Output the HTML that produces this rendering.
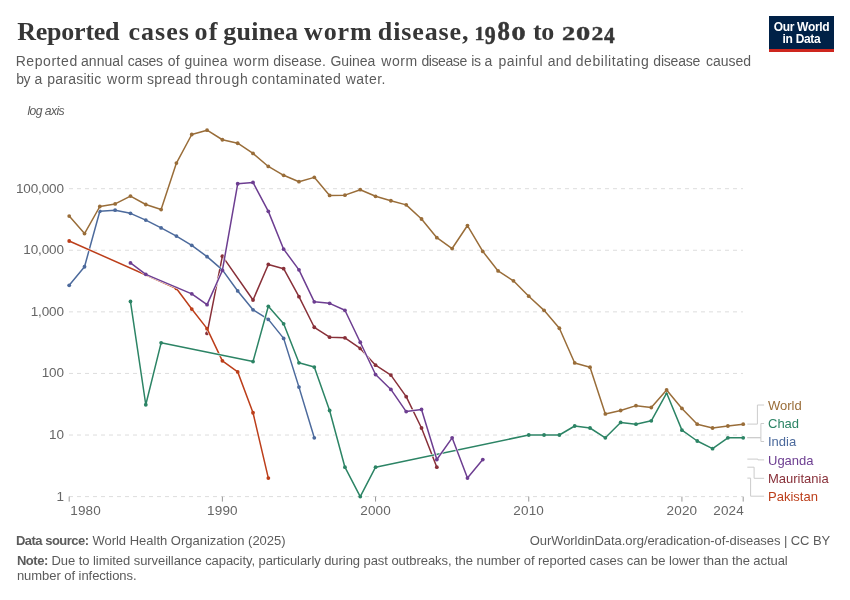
<!DOCTYPE html>
<html><head><meta charset="utf-8"><title>Reported cases of guinea worm disease</title>
<style>
html,body{margin:0;padding:0;background:#fff;}
body{will-change:transform;width:850px;height:600px;position:relative;overflow:hidden;font-family:"Liberation Sans",sans-serif;}
.abs{position:absolute;white-space:nowrap;}
#title span{position:absolute;top:17px;white-space:nowrap;font-family:"Liberation Serif",serif;font-weight:bold;font-size:26px;line-height:30px;color:#363636}
#sub span{position:absolute;white-space:nowrap;font-size:14px;line-height:18px;color:#5b5b5b}
#logo{letter-spacing:-0.32px;left:769px;top:16px;width:65px;height:33px;background:#002147;border-bottom:3px solid #ce261e;color:#fff;font-weight:bold;font-size:12px;line-height:12px;text-align:center;}
#logo div{margin-top:5px}
#logax{left:27.5px;top:104px;letter-spacing:-0.6px;font-size:12.2px;font-style:italic;color:#5b5b5b;}
.yl{letter-spacing:-0.12px;position:absolute;left:0;width:63.9px;text-align:right;font-size:13.5px;line-height:16px;color:#666;}
.xl{letter-spacing:0.18px;position:absolute;top:503px;font-size:13.5px;line-height:16px;color:#666;white-space:nowrap}
.lg{position:absolute;left:768px;font-size:13px;line-height:16px;white-space:nowrap}
.ft{position:absolute;white-space:nowrap;font-size:13px;line-height:15px;color:#5b5b5b;}
.ft b{font-weight:bold}
svg{position:absolute;left:0;top:0}
</style></head><body>
<div id="title"><span style="left:17.30px;letter-spacing:-0.245px">Reported</span> <span style="left:128.50px;letter-spacing:1.000px">cases</span> <span style="left:194.45px;letter-spacing:1.200px">of</span> <span style="left:223.30px;letter-spacing:0.223px">guinea</span> <span style="left:304.00px;letter-spacing:0.895px">worm</span> <span style="left:377.80px;letter-spacing:0.886px">disease,</span> <svg width="850" height="60" viewBox="0 0 850 60" style="overflow:visible"><g font-family="Liberation Serif, serif" font-weight="bold" font-size="20" fill="#363636" stroke="#363636" stroke-width="0.4" stroke-linejoin="round"><text transform="translate(474.40,39.90) scale(1.000,0.893)">1</text><text transform="translate(484.80,44.00) scale(1.090,1.207)">9</text><text transform="translate(497.40,40.20) scale(1.240,1.314)">8</text><text transform="translate(511.50,40.20) scale(1.410,0.929)">0</text></g></svg> <span style="left:533.00px;letter-spacing:-0.450px">to</span> <svg width="850" height="60" viewBox="0 0 850 60" style="overflow:visible"><g font-family="Liberation Serif, serif" font-weight="bold" font-size="20" fill="#363636" stroke="#363636" stroke-width="0.4" stroke-linejoin="round"><text transform="translate(561.90,39.90) scale(1.320,0.893)">2</text><text transform="translate(576.00,40.20) scale(1.420,0.929)">0</text><text transform="translate(591.50,39.90) scale(1.180,0.893)">2</text><text transform="translate(603.90,43.10) scale(1.070,1.150)">4</text></g></svg></div>
<div id="sub"><span style="left:15.70px;top:52px;letter-spacing:0.556px">Reported</span> <span style="left:81.00px;top:52px;letter-spacing:0.054px">annual</span> <span style="left:127.80px;top:52px;letter-spacing:-0.343px">cases</span> <span style="left:167.80px;top:52px;letter-spacing:0.214px">of</span> <span style="left:184.40px;top:52px;letter-spacing:0.229px">guinea</span> <span style="left:233.40px;top:52px;letter-spacing:0.480px">worm</span> <span style="left:273.20px;top:52px;letter-spacing:0.064px">disease.</span> <span style="left:330.40px;top:52px;letter-spacing:-0.032px">Guinea</span> <span style="left:381.20px;top:52px;letter-spacing:0.614px">worm</span> <span style="left:421.50px;top:52px;letter-spacing:-0.428px">disease</span> <span style="left:471.27px;top:52px;letter-spacing:-0.450px">is</span> <span style="left:484.40px;top:52px;letter-spacing:-0.450px">a</span> <span style="left:498.60px;top:52px;letter-spacing:0.443px">painful</span> <span style="left:547.80px;top:52px;letter-spacing:0.164px">and</span> <span style="left:575.80px;top:52px;letter-spacing:0.541px">debilitating</span> <span style="left:653.30px;top:52px;letter-spacing:-0.195px">disease</span> <span style="left:706.00px;top:52px;letter-spacing:-0.032px">caused</span> <span style="left:16.13px;top:70px;letter-spacing:-0.450px">by</span> <span style="left:34.45px;top:70px;letter-spacing:-0.450px">a</span> <span style="left:47.30px;top:70px;letter-spacing:0.221px">parasitic</span> <span style="left:107.10px;top:70px;letter-spacing:0.514px">worm</span> <span style="left:147.00px;top:70px;letter-spacing:0.296px">spread</span> <span style="left:195.40px;top:70px;letter-spacing:0.834px">through</span> <span style="left:251.70px;top:70px;letter-spacing:0.466px">contaminated</span> <span style="left:345.70px;top:70px;letter-spacing:0.488px">water.</span></div>
<div id="logo" class="abs"><div>Our World<br>in Data</div></div>
<div id="logax" class="abs">log axis</div>
<svg width="850" height="600" viewBox="0 0 850 600">
<line x1="69" x2="743" y1="496.60" y2="496.60" stroke="#dddddd" stroke-width="1" stroke-dasharray="4,4"/>
<line x1="69" x2="743" y1="435.02" y2="435.02" stroke="#dddddd" stroke-width="1" stroke-dasharray="4,4"/>
<line x1="69" x2="743" y1="373.44" y2="373.44" stroke="#dddddd" stroke-width="1" stroke-dasharray="4,4"/>
<line x1="69" x2="743" y1="311.86" y2="311.86" stroke="#dddddd" stroke-width="1" stroke-dasharray="4,4"/>
<line x1="69" x2="743" y1="250.28" y2="250.28" stroke="#dddddd" stroke-width="1" stroke-dasharray="4,4"/>
<line x1="69" x2="743" y1="188.70" y2="188.70" stroke="#dddddd" stroke-width="1" stroke-dasharray="4,4"/>
<line x1="69.20" x2="69.20" y1="496.60" y2="501.60" stroke="#999" stroke-width="1"/>
<line x1="222.38" x2="222.38" y1="496.60" y2="501.60" stroke="#999" stroke-width="1"/>
<line x1="375.56" x2="375.56" y1="496.60" y2="501.60" stroke="#999" stroke-width="1"/>
<line x1="528.75" x2="528.75" y1="496.60" y2="501.60" stroke="#999" stroke-width="1"/>
<line x1="681.93" x2="681.93" y1="496.60" y2="501.60" stroke="#999" stroke-width="1"/>
<line x1="743.20" x2="743.20" y1="496.60" y2="501.60" stroke="#999" stroke-width="1"/>
<path d="M207.06,333.39 L222.38,256.13 L253.02,300.02 L268.34,264.47 L283.65,268.66 L298.97,296.71 L314.29,327.27 L329.61,337.18 L344.93,337.81 L360.25,348.41 L375.56,365.22 L390.88,375.09 L406.20,396.64 L421.52,428.00 L436.84,467.22" fill="none" stroke="#fff" stroke-width="2.5" stroke-linejoin="round" stroke-linecap="butt"/>
<path d="M207.06,333.39 L222.38,256.13 L253.02,300.02 L268.34,264.47 L283.65,268.66 L298.97,296.71 L314.29,327.27 L329.61,337.18 L344.93,337.81 L360.25,348.41 L375.56,365.22 L390.88,375.09 L406.20,396.64 L421.52,428.00 L436.84,467.22" fill="none" stroke="#883039" stroke-width="1.5" stroke-linejoin="round" stroke-linecap="butt"/>
<g fill="#883039"><circle cx="207.06" cy="333.39" r="1.9"/><circle cx="222.38" cy="256.13" r="1.9"/><circle cx="253.02" cy="300.02" r="1.9"/><circle cx="268.34" cy="264.47" r="1.9"/><circle cx="283.65" cy="268.66" r="1.9"/><circle cx="298.97" cy="296.71" r="1.9"/><circle cx="314.29" cy="327.27" r="1.9"/><circle cx="329.61" cy="337.18" r="1.9"/><circle cx="344.93" cy="337.81" r="1.9"/><circle cx="360.25" cy="348.41" r="1.9"/><circle cx="375.56" cy="365.22" r="1.9"/><circle cx="390.88" cy="375.09" r="1.9"/><circle cx="406.20" cy="396.64" r="1.9"/><circle cx="421.52" cy="428.00" r="1.9"/><circle cx="436.84" cy="467.22" r="1.9"/></g>
<path d="M69.20,285.30 L84.52,266.73 L99.84,211.32 L115.15,210.16 L130.47,213.34 L145.79,220.07 L161.11,227.92 L176.43,236.04 L191.75,245.35 L207.06,256.65 L222.38,269.92 L237.70,290.96 L253.02,309.78 L268.34,319.38 L283.65,338.38 L298.97,387.10 L314.29,437.84" fill="none" stroke="#fff" stroke-width="2.5" stroke-linejoin="round" stroke-linecap="butt"/>
<path d="M69.20,285.30 L84.52,266.73 L99.84,211.32 L115.15,210.16 L130.47,213.34 L145.79,220.07 L161.11,227.92 L176.43,236.04 L191.75,245.35 L207.06,256.65 L222.38,269.92 L237.70,290.96 L253.02,309.78 L268.34,319.38 L283.65,338.38 L298.97,387.10 L314.29,437.84" fill="none" stroke="#4C6A9C" stroke-width="1.5" stroke-linejoin="round" stroke-linecap="butt"/>
<g fill="#4C6A9C"><circle cx="69.20" cy="285.30" r="1.9"/><circle cx="84.52" cy="266.73" r="1.9"/><circle cx="99.84" cy="211.32" r="1.9"/><circle cx="115.15" cy="210.16" r="1.9"/><circle cx="130.47" cy="213.34" r="1.9"/><circle cx="145.79" cy="220.07" r="1.9"/><circle cx="161.11" cy="227.92" r="1.9"/><circle cx="176.43" cy="236.04" r="1.9"/><circle cx="191.75" cy="245.35" r="1.9"/><circle cx="207.06" cy="256.65" r="1.9"/><circle cx="222.38" cy="269.92" r="1.9"/><circle cx="237.70" cy="290.96" r="1.9"/><circle cx="253.02" cy="309.78" r="1.9"/><circle cx="268.34" cy="319.38" r="1.9"/><circle cx="283.65" cy="338.38" r="1.9"/><circle cx="298.97" cy="387.10" r="1.9"/><circle cx="314.29" cy="437.84" r="1.9"/></g>
<path d="M69.20,240.99 L176.43,288.45 L191.75,309.07 L207.06,328.64 L222.38,360.87 L237.70,371.88 L253.02,412.74 L268.34,478.06" fill="none" stroke="#fff" stroke-width="2.5" stroke-linejoin="round" stroke-linecap="butt"/>
<path d="M69.20,240.99 L176.43,288.45 L191.75,309.07 L207.06,328.64 L222.38,360.87 L237.70,371.88 L253.02,412.74 L268.34,478.06" fill="none" stroke="#BC3E1A" stroke-width="1.5" stroke-linejoin="round" stroke-linecap="butt"/>
<g fill="#BC3E1A"><circle cx="69.20" cy="240.99" r="1.9"/><circle cx="176.43" cy="288.45" r="1.9"/><circle cx="191.75" cy="309.07" r="1.9"/><circle cx="207.06" cy="328.64" r="1.9"/><circle cx="222.38" cy="360.87" r="1.9"/><circle cx="237.70" cy="371.88" r="1.9"/><circle cx="253.02" cy="412.74" r="1.9"/><circle cx="268.34" cy="478.06" r="1.9"/></g>
<path d="M130.47,301.52 L145.79,404.76 L161.11,342.84 L253.02,361.55 L268.34,306.30 L283.65,323.80 L298.97,362.78 L314.29,367.05 L329.61,410.51 L344.93,467.22 L360.25,496.60 L375.56,467.22 L528.75,435.02 L544.06,435.02 L559.38,435.02 L574.70,426.02 L590.02,428.00 L605.34,437.84 L620.65,422.45 L635.97,424.18 L651.29,420.83 L666.61,393.07 L681.93,430.14 L697.25,440.99 L712.56,448.68 L727.88,437.84 L743.20,437.84" fill="none" stroke="#fff" stroke-width="2.5" stroke-linejoin="round" stroke-linecap="butt"/>
<path d="M130.47,301.52 L145.79,404.76 L161.11,342.84 L253.02,361.55 L268.34,306.30 L283.65,323.80 L298.97,362.78 L314.29,367.05 L329.61,410.51 L344.93,467.22 L360.25,496.60 L375.56,467.22 L528.75,435.02 L544.06,435.02 L559.38,435.02 L574.70,426.02 L590.02,428.00 L605.34,437.84 L620.65,422.45 L635.97,424.18 L651.29,420.83 L666.61,393.07 L681.93,430.14 L697.25,440.99 L712.56,448.68 L727.88,437.84 L743.20,437.84" fill="none" stroke="#2C8465" stroke-width="1.5" stroke-linejoin="round" stroke-linecap="butt"/>
<g fill="#2C8465"><circle cx="130.47" cy="301.52" r="1.9"/><circle cx="145.79" cy="404.76" r="1.9"/><circle cx="161.11" cy="342.84" r="1.9"/><circle cx="253.02" cy="361.55" r="1.9"/><circle cx="268.34" cy="306.30" r="1.9"/><circle cx="283.65" cy="323.80" r="1.9"/><circle cx="298.97" cy="362.78" r="1.9"/><circle cx="314.29" cy="367.05" r="1.9"/><circle cx="329.61" cy="410.51" r="1.9"/><circle cx="344.93" cy="467.22" r="1.9"/><circle cx="360.25" cy="496.60" r="1.9"/><circle cx="375.56" cy="467.22" r="1.9"/><circle cx="528.75" cy="435.02" r="1.9"/><circle cx="544.06" cy="435.02" r="1.9"/><circle cx="559.38" cy="435.02" r="1.9"/><circle cx="574.70" cy="426.02" r="1.9"/><circle cx="590.02" cy="428.00" r="1.9"/><circle cx="605.34" cy="437.84" r="1.9"/><circle cx="620.65" cy="422.45" r="1.9"/><circle cx="635.97" cy="424.18" r="1.9"/><circle cx="651.29" cy="420.83" r="1.9"/><circle cx="666.61" cy="393.07" r="1.9"/><circle cx="681.93" cy="430.14" r="1.9"/><circle cx="697.25" cy="440.99" r="1.9"/><circle cx="712.56" cy="448.68" r="1.9"/><circle cx="727.88" cy="437.84" r="1.9"/><circle cx="743.20" cy="437.84" r="1.9"/></g>
<path d="M130.47,262.94 L145.79,274.32 L191.75,293.86 L207.06,304.66 L222.38,270.45 L237.70,183.77 L253.02,182.44 L268.34,211.36 L283.65,249.17 L298.97,269.85 L314.29,301.83 L329.61,303.36 L344.93,310.28 L360.25,342.25 L375.56,374.53 L390.88,389.43 L406.20,411.61 L421.52,409.47 L436.84,459.53 L452.15,437.84 L467.47,478.06 L482.79,459.53" fill="none" stroke="#fff" stroke-width="2.5" stroke-linejoin="round" stroke-linecap="butt"/>
<path d="M130.47,262.94 L145.79,274.32 L191.75,293.86 L207.06,304.66 L222.38,270.45 L237.70,183.77 L253.02,182.44 L268.34,211.36 L283.65,249.17 L298.97,269.85 L314.29,301.83 L329.61,303.36 L344.93,310.28 L360.25,342.25 L375.56,374.53 L390.88,389.43 L406.20,411.61 L421.52,409.47 L436.84,459.53 L452.15,437.84 L467.47,478.06 L482.79,459.53" fill="none" stroke="#6D3E91" stroke-width="1.5" stroke-linejoin="round" stroke-linecap="butt"/>
<g fill="#6D3E91"><circle cx="130.47" cy="262.94" r="1.9"/><circle cx="145.79" cy="274.32" r="1.9"/><circle cx="191.75" cy="293.86" r="1.9"/><circle cx="207.06" cy="304.66" r="1.9"/><circle cx="222.38" cy="270.45" r="1.9"/><circle cx="237.70" cy="183.77" r="1.9"/><circle cx="253.02" cy="182.44" r="1.9"/><circle cx="268.34" cy="211.36" r="1.9"/><circle cx="283.65" cy="249.17" r="1.9"/><circle cx="298.97" cy="269.85" r="1.9"/><circle cx="314.29" cy="301.83" r="1.9"/><circle cx="329.61" cy="303.36" r="1.9"/><circle cx="344.93" cy="310.28" r="1.9"/><circle cx="360.25" cy="342.25" r="1.9"/><circle cx="375.56" cy="374.53" r="1.9"/><circle cx="390.88" cy="389.43" r="1.9"/><circle cx="406.20" cy="411.61" r="1.9"/><circle cx="421.52" cy="409.47" r="1.9"/><circle cx="436.84" cy="459.53" r="1.9"/><circle cx="452.15" cy="437.84" r="1.9"/><circle cx="467.47" cy="478.06" r="1.9"/><circle cx="482.79" cy="459.53" r="1.9"/></g>
<path d="M69.20,216.10 L84.52,233.54 L99.84,206.50 L115.15,203.92 L130.47,196.11 L145.79,204.49 L161.11,209.53 L176.43,163.09 L191.75,134.49 L207.06,130.17 L222.38,139.75 L237.70,143.23 L253.02,153.41 L268.34,166.45 L283.65,175.31 L298.97,181.71 L314.29,177.36 L329.61,195.39 L344.93,195.15 L360.25,189.71 L375.56,196.31 L390.88,200.75 L406.20,204.87 L421.52,219.01 L436.84,237.67 L452.15,248.54 L467.47,225.54 L482.79,251.41 L498.11,270.94 L513.43,280.84 L528.75,296.18 L544.06,310.35 L559.38,328.24 L574.70,362.96 L590.02,367.26 L605.34,413.93 L620.65,410.51 L635.97,405.64 L651.29,407.48 L666.61,389.92 L681.93,408.46 L697.25,424.18 L712.56,428.00 L727.88,426.02 L743.20,424.18" fill="none" stroke="#fff" stroke-width="2.5" stroke-linejoin="round" stroke-linecap="butt"/>
<path d="M69.20,216.10 L84.52,233.54 L99.84,206.50 L115.15,203.92 L130.47,196.11 L145.79,204.49 L161.11,209.53 L176.43,163.09 L191.75,134.49 L207.06,130.17 L222.38,139.75 L237.70,143.23 L253.02,153.41 L268.34,166.45 L283.65,175.31 L298.97,181.71 L314.29,177.36 L329.61,195.39 L344.93,195.15 L360.25,189.71 L375.56,196.31 L390.88,200.75 L406.20,204.87 L421.52,219.01 L436.84,237.67 L452.15,248.54 L467.47,225.54 L482.79,251.41 L498.11,270.94 L513.43,280.84 L528.75,296.18 L544.06,310.35 L559.38,328.24 L574.70,362.96 L590.02,367.26 L605.34,413.93 L620.65,410.51 L635.97,405.64 L651.29,407.48 L666.61,389.92 L681.93,408.46 L697.25,424.18 L712.56,428.00 L727.88,426.02 L743.20,424.18" fill="none" stroke="#996D39" stroke-width="1.5" stroke-linejoin="round" stroke-linecap="butt"/>
<g fill="#996D39"><circle cx="69.20" cy="216.10" r="1.9"/><circle cx="84.52" cy="233.54" r="1.9"/><circle cx="99.84" cy="206.50" r="1.9"/><circle cx="115.15" cy="203.92" r="1.9"/><circle cx="130.47" cy="196.11" r="1.9"/><circle cx="145.79" cy="204.49" r="1.9"/><circle cx="161.11" cy="209.53" r="1.9"/><circle cx="176.43" cy="163.09" r="1.9"/><circle cx="191.75" cy="134.49" r="1.9"/><circle cx="207.06" cy="130.17" r="1.9"/><circle cx="222.38" cy="139.75" r="1.9"/><circle cx="237.70" cy="143.23" r="1.9"/><circle cx="253.02" cy="153.41" r="1.9"/><circle cx="268.34" cy="166.45" r="1.9"/><circle cx="283.65" cy="175.31" r="1.9"/><circle cx="298.97" cy="181.71" r="1.9"/><circle cx="314.29" cy="177.36" r="1.9"/><circle cx="329.61" cy="195.39" r="1.9"/><circle cx="344.93" cy="195.15" r="1.9"/><circle cx="360.25" cy="189.71" r="1.9"/><circle cx="375.56" cy="196.31" r="1.9"/><circle cx="390.88" cy="200.75" r="1.9"/><circle cx="406.20" cy="204.87" r="1.9"/><circle cx="421.52" cy="219.01" r="1.9"/><circle cx="436.84" cy="237.67" r="1.9"/><circle cx="452.15" cy="248.54" r="1.9"/><circle cx="467.47" cy="225.54" r="1.9"/><circle cx="482.79" cy="251.41" r="1.9"/><circle cx="498.11" cy="270.94" r="1.9"/><circle cx="513.43" cy="280.84" r="1.9"/><circle cx="528.75" cy="296.18" r="1.9"/><circle cx="544.06" cy="310.35" r="1.9"/><circle cx="559.38" cy="328.24" r="1.9"/><circle cx="574.70" cy="362.96" r="1.9"/><circle cx="590.02" cy="367.26" r="1.9"/><circle cx="605.34" cy="413.93" r="1.9"/><circle cx="620.65" cy="410.51" r="1.9"/><circle cx="635.97" cy="405.64" r="1.9"/><circle cx="651.29" cy="407.48" r="1.9"/><circle cx="666.61" cy="389.92" r="1.9"/><circle cx="681.93" cy="408.46" r="1.9"/><circle cx="697.25" cy="424.18" r="1.9"/><circle cx="712.56" cy="428.00" r="1.9"/><circle cx="727.88" cy="426.02" r="1.9"/><circle cx="743.20" cy="424.18" r="1.9"/></g>
<path d="M747.3,424.1 H757.4 V405 H764.1" fill="none" stroke="#cccccc" stroke-width="1"/>
<path d="M747.3,437.7 H760.9 V423.5 H764.1" fill="none" stroke="#cccccc" stroke-width="1"/>
<path d="M747.3,437.7 H760.9 V441.5 H764.1" fill="none" stroke="#cccccc" stroke-width="1"/>
<path d="M747.3,459.1 H757.9 V459.9 H764.1" fill="none" stroke="#cccccc" stroke-width="1"/>
<path d="M747.3,467.2 H754.1 V478.3 H764.1" fill="none" stroke="#cccccc" stroke-width="1"/>
<path d="M747.3,478.1 H750.6 V496.2 H764.1" fill="none" stroke="#cccccc" stroke-width="1"/>

</svg>
<div class="yl" style="top:488.6px">1</div><div class="yl" style="top:427.0px">10</div><div class="yl" style="top:365.4px">100</div><div class="yl" style="top:303.9px">1,000</div><div class="yl" style="top:242.3px">10,000</div><div class="yl" style="top:180.7px">100,000</div>
<div class="xl" style="left:70.2px">1980</div><div class="xl" style="left:202.4px;width:40px;text-align:center">1990</div><div class="xl" style="left:355.6px;width:40px;text-align:center">2000</div><div class="xl" style="left:508.7px;width:40px;text-align:center">2010</div><div class="xl" style="left:661.9px;width:40px;text-align:center">2020</div><div class="xl" style="left:713.2px;width:30px;text-align:right">2024</div>
<div class="lg" style="top:397.8px;color:#996D39">World</div><div class="lg" style="top:416.3px;color:#2C8465">Chad</div><div class="lg" style="top:434.3px;color:#4C6A9C">India</div><div class="lg" style="top:452.7px;color:#6D3E91">Uganda</div><div class="lg" style="top:471.1px;color:#883039">Mauritania</div><div class="lg" style="top:489.0px;color:#BC3E1A">Pakistan</div>
<span class="ft" style="left:15.89px;top:533px;letter-spacing:-0.500px;font-weight:bold">Data source:</span><span class="ft" style="left:92.40px;top:533px;letter-spacing:-0.006px;">World Health Organization (2025)</span><span class="ft" style="left:529.70px;top:533px;letter-spacing:-0.064px;">OurWorldinData.org/eradication-of-diseases | CC BY</span><span class="ft" style="left:16.90px;top:553px;letter-spacing:-0.472px;font-weight:bold">Note:</span><span class="ft" style="left:51.50px;top:553px;letter-spacing:-0.060px;">Due to limited surveillance capacity, particularly during past outbreaks, the number of reported cases can be lower than the actual</span><span class="ft" style="left:16.90px;top:568px;letter-spacing:-0.048px;">number of infections.</span>
</body></html>
